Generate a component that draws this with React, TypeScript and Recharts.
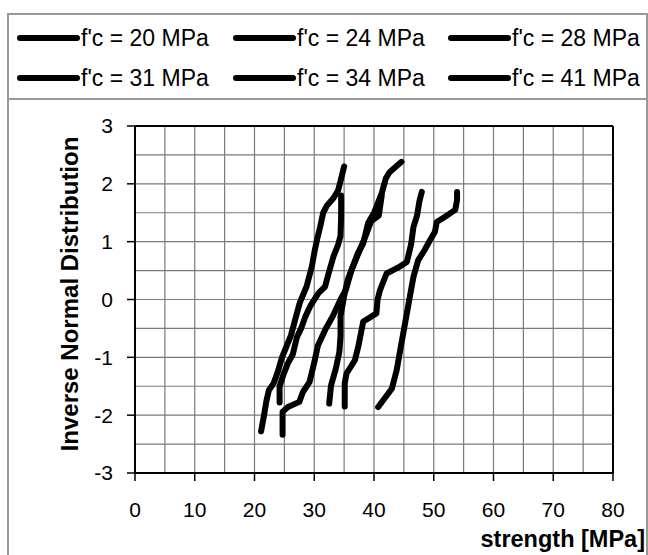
import { CartesianGrid, Line, LineChart, ReferenceLine, XAxis, YAxis } from "recharts"

const seriesNames = ["f'c = 20 MPa", "f'c = 24 MPa", "f'c = 28 MPa", "f'c = 31 MPa", "f'c = 34 MPa", "f'c = 41 MPa"]

const fc20 = [
  { x: 21.1, y: -2.28 }, { x: 21.6, y: -2.0 }, { x: 22.0, y: -1.75 }, { x: 22.4, y: -1.57 },
  { x: 23.2, y: -1.45 }, { x: 23.9, y: -1.25 }, { x: 24.6, y: -1.0 }, { x: 25.4, y: -0.8 },
  { x: 26.1, y: -0.62 }, { x: 26.8, y: -0.35 }, { x: 27.6, y: -0.05 }, { x: 28.7, y: 0.22 },
  { x: 29.6, y: 0.57 }, { x: 30.1, y: 0.86 }, { x: 30.5, y: 1.05 }, { x: 31.0, y: 1.26 },
  { x: 31.5, y: 1.5 }, { x: 32.1, y: 1.62 }, { x: 33.2, y: 1.75 }, { x: 34.0, y: 1.89 },
  { x: 34.4, y: 2.05 }, { x: 35.0, y: 2.3 },
]

const fc24 = [
  { x: 24.2, y: -1.78 }, { x: 24.2, y: -1.5 }, { x: 24.9, y: -1.28 }, { x: 25.6, y: -1.1 },
  { x: 26.4, y: -0.95 }, { x: 27.1, y: -0.65 }, { x: 27.8, y: -0.5 }, { x: 28.5, y: -0.3 },
  { x: 29.3, y: -0.12 }, { x: 30.7, y: 0.11 }, { x: 31.8, y: 0.22 }, { x: 32.4, y: 0.45 },
  { x: 33.2, y: 0.74 }, { x: 34.0, y: 0.95 }, { x: 34.4, y: 1.1 }, { x: 34.5, y: 1.45 },
  { x: 34.5, y: 1.8 },
]

const fc28 = [
  { x: 24.7, y: -2.34 }, { x: 24.7, y: -1.94 }, { x: 25.6, y: -1.86 }, { x: 27.5, y: -1.77 },
  { x: 28.1, y: -1.6 }, { x: 29.2, y: -1.43 }, { x: 30.0, y: -1.09 }, { x: 30.6, y: -0.8 },
  { x: 31.9, y: -0.51 }, { x: 33.1, y: -0.29 }, { x: 34.4, y: 0.0 }, { x: 35.3, y: 0.17 },
  { x: 36.2, y: 0.5 }, { x: 37.3, y: 0.8 }, { x: 38.2, y: 0.97 }, { x: 39.0, y: 1.32 },
  { x: 40.0, y: 1.5 }, { x: 41.3, y: 1.84 }, { x: 42.0, y: 2.1 }, { x: 42.6, y: 2.2 },
  { x: 44.6, y: 2.38 },
]

const fc31 = [
  { x: 32.5, y: -1.8 }, { x: 32.8, y: -1.49 }, { x: 33.6, y: -1.2 }, { x: 34.2, y: -0.91 },
  { x: 34.4, y: -0.63 }, { x: 34.4, y: -0.29 }, { x: 35.0, y: 0.06 }, { x: 35.6, y: 0.34 },
  { x: 36.4, y: 0.55 }, { x: 37.6, y: 0.85 }, { x: 38.6, y: 1.1 }, { x: 39.5, y: 1.35 },
  { x: 40.8, y: 1.45 }, { x: 41.3, y: 1.8 },
]

const fc34 = [
  { x: 35.1, y: -1.85 }, { x: 35.1, y: -1.45 }, { x: 35.4, y: -1.28 }, { x: 36.8, y: -1.05 },
  { x: 37.4, y: -0.8 }, { x: 37.7, y: -0.64 }, { x: 38.2, y: -0.38 }, { x: 39.5, y: -0.3 },
  { x: 40.4, y: -0.24 }, { x: 40.6, y: 0.0 }, { x: 41.0, y: 0.16 }, { x: 42.1, y: 0.45 },
  { x: 44.0, y: 0.55 }, { x: 45.5, y: 0.65 }, { x: 46.2, y: 0.95 }, { x: 46.6, y: 1.25 },
  { x: 47.2, y: 1.45 }, { x: 47.6, y: 1.7 }, { x: 48.0, y: 1.86 },
]

const fc41 = [
  { x: 40.7, y: -1.86 }, { x: 43.0, y: -1.54 }, { x: 43.8, y: -1.22 }, { x: 44.4, y: -0.87 },
  { x: 45.2, y: -0.41 }, { x: 46.0, y: 0.05 }, { x: 46.6, y: 0.39 }, { x: 47.4, y: 0.68 },
  { x: 48.5, y: 0.86 }, { x: 49.4, y: 1.03 }, { x: 50.2, y: 1.17 }, { x: 50.5, y: 1.34 },
  { x: 51.9, y: 1.43 }, { x: 53.6, y: 1.55 }, { x: 53.9, y: 1.72 }, { x: 53.9, y: 1.86 },
]

const seriesData = [fc20, fc24, fc28, fc31, fc34, fc41]

const xTicks = [0, 10, 20, 30, 40, 50, 60, 70, 80]
const yTicks = [-3, -2, -1, 0, 1, 2, 3]
const xGrid = [5, 10, 15, 20, 25, 30, 35, 40, 45, 50, 55, 60, 65, 70, 75]
const yGrid = [-2.5, -2, -1.5, -1, -0.5, 0, 0.5, 1, 1.5, 2, 2.5]

const font = "'Liberation Sans', Arial, Helvetica, sans-serif"
const legendCols = [17, 233, 448]
const legendRows = [38, 78]

export default function App() {
  return (
    <div style={{ position: "absolute", left: 0, top: 0, width: 648, height: 555, background: "#fff", fontFamily: font }}>
      <div style={{ position: "absolute", left: 7, top: 13, width: 641, height: 545, border: "2px solid #999", boxSizing: "border-box" }} />
      <div style={{ position: "absolute", left: 7, top: 98, width: 641, height: 2, background: "#999" }} />
      {seriesNames.map((name, i) => (
        <div
          key={name}
          style={{
            position: "absolute",
            left: legendCols[i % 3],
            top: legendRows[Math.floor(i / 3)] - 14,
            height: 28,
            display: "flex",
            alignItems: "center",
            whiteSpace: "nowrap",
            fontSize: 23,
            color: "#000",
          }}
        >
          <span style={{ display: "inline-block", width: 63, height: 6, borderRadius: 3, background: "#000", marginRight: 1 }} />
          <span>{name}</span>
        </div>
      ))}
      <div style={{ position: "absolute", left: 0, top: 0 }}>
        <LineChart width={648} height={555} margin={{ top: 126, right: 35, bottom: 22, left: 75 }}>
          <CartesianGrid stroke="#7a7a7a" strokeWidth={1.2} verticalValues={xGrid} horizontalValues={yGrid} />
          <XAxis
            type="number"
            dataKey="x"
            domain={[0, 80]}
            ticks={xTicks}
            interval={0}
            height={60}
            tickSize={8}
            tickMargin={21}
            axisLine={{ stroke: "#000", strokeWidth: 2 }}
            tickLine={{ stroke: "#000", strokeWidth: 1.5 }}
            tick={{ fill: "#000", fontSize: 21, fontFamily: font }}
            allowDuplicatedCategory={false}
          />
          <YAxis
            type="number"
            dataKey="y"
            domain={[-3, 3]}
            ticks={yTicks}
            interval={0}
            width={60}
            tickSize={8}
            tickMargin={14}
            axisLine={{ stroke: "#000", strokeWidth: 2 }}
            tickLine={{ stroke: "#000", strokeWidth: 1.5 }}
            tick={{ fill: "#000", fontSize: 21, fontFamily: font }}
          />
          <ReferenceLine y={3} stroke="#000" strokeWidth={2} />
          <ReferenceLine x={80} stroke="#000" strokeWidth={2} />
          {seriesData.map((d, i) => (
            <Line
              key={seriesNames[i]}
              data={d}
              dataKey="y"
              name={seriesNames[i]}
              type="linear"
              stroke="#000"
              strokeWidth={6}
              strokeLinejoin="round"
              strokeLinecap="round"
              dot={false}
              activeDot={false}
              isAnimationActive={false}
            />
          ))}
        </LineChart>
      </div>
      <div
        style={{
          position: "absolute",
          left: 70,
          top: 294,
          transform: "translate(-50%, -50%) rotate(-90deg)",
          whiteSpace: "nowrap",
          fontSize: 24,
          fontWeight: "bold",
          lineHeight: 1,
        }}
      >
        Inverse Normal Distribution
      </div>
      <div style={{ position: "absolute", right: 3, top: 528, fontSize: 23.5, fontWeight: "bold", lineHeight: 1, whiteSpace: "nowrap" }}>
        strength [MPa]
      </div>
    </div>
  )
}
